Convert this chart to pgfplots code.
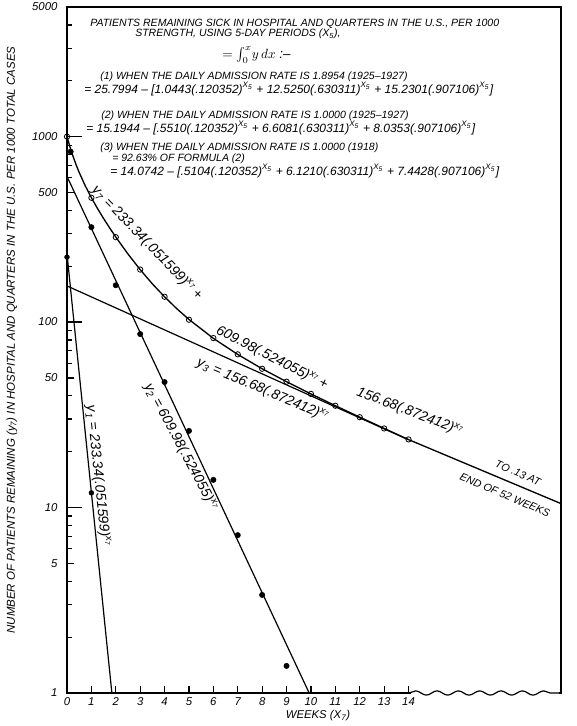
\documentclass[border=0pt]{standalone}
\usepackage{pgfplots}
\pgfplotsset{compat=1.18}
\usepackage{fontspec}
\setmainfont{Liberation Sans}
\usetikzlibrary{decorations.pathmorphing}
\newcommand\sx[1]{\textsuperscript{X\textsubscript{#1}}}
\newcommand\sw{\textsuperscript{x\textsubscript{7}}}
\newcommand\tf{\itshape\fontsize{7.9}{8.5}\selectfont}
\newcommand\ef{\itshape\fontsize{9}{10}\selectfont}
\newcommand\cf{\itshape\fontsize{10.5}{11}\selectfont}
\begin{document}
\begin{tikzpicture}
\begin{axis}[
  width=370.5pt, height=514.5pt, scale only axis,
  ymode=log, xmin=0, xmax=20.25, ymin=1, ymax=5000,
  axis line style={line width=1.1pt},
  tick align=inside, xtick pos=bottom, ytick pos=left,
  tick style={line width=0.9pt, black},
  xtick={0,...,14},
  xticklabels={0,1,2,3,4,5,6,7,8,9,10,11,12,13,14},
  xtick style={/pgfplots/major tick length=5pt},
  ytick={1,10,100,1000}, yticklabels={1,10,100,1000},
  major tick length=11pt, minor tick length=4pt,
  extra y ticks={5,50,500,5000}, extra y tick labels={5,50,500,5000},
  extra y tick style={major tick length=5pt},
  minor ytick={2,3,4,6,7,8,9,20,30,40,60,70,80,90,200,300,400,600,700,800,900,2000,3000,4000},
  yticklabel style={font=\itshape\fontsize{8.5}{9}\selectfont, inner sep=0pt, xshift=-7pt},
  xticklabel style={font=\itshape\fontsize{8.5}{9}\selectfont, inner sep=0pt, yshift=-3pt},
]
\addplot[line width=0.9pt] coordinates {(0,233.34) (1.8395,1)};
\addplot[line width=0.9pt] coordinates {(0,609.98) (9.927,1)};
\addplot[line width=0.9pt] coordinates {(0,156.68) (14,23.18)};
\addplot[line width=1pt] coordinates {
(0,1000) (0.125,877.7) (0.25,781.6) (0.375,704.4) (0.5,640.9) (0.75,542.4)
(1,468.4) (1.25,409.8) (1.5,361.8) (1.75,321.6) (2,287.4) (2.5,232.8)
(3,191.8) (3.5,160.7) (4,136.8) (4.5,118.1) (5,103.3) (6,81.7) (7,66.9)
(8,56.0) (9,47.7) (10,40.97) (11,35.41) (12,30.72) (13,26.71) (14,23.25)
(20.25,10.5)};
\addplot[only marks, mark=*, mark size=2pt] coordinates {
(0.15,830) (1,325) (2,158) (3,86.2) (4,47.5) (5,25.9) (6,14.1) (7,7.1) (8,3.38) (9,1.40)};
\addplot[only marks, mark=*, mark size=1.8pt] coordinates {(0,224) (1,12.0)};
\addplot[only marks, mark=o, mark size=2pt, line width=0.6pt, fill=white] coordinates {
(0,1000) (1,468) (2,287) (3,192) (4,137) (5,103) (6,82) (7,67) (8,56) (9,47.7)
(10,41) (11,35.4) (12,30.7) (13,26.7) (14,23.3)};
\coordinate (b14) at (axis cs:14.12,1);
\coordinate (b14s) at (axis cs:14.02,1);
\coordinate (bend) at (axis cs:20.25,1);
\coordinate (bendw) at (axis cs:20.15,1);
\end{axis}
\draw[white, line width=2.6pt] (b14) -- (bendw);
\draw[line width=0.9pt, decorate, decoration={snake, amplitude=1.6pt, segment length=16pt}] (b14s) -- (bend);
\begin{scope}[shift={([xshift=-50.25pt,yshift=519.75pt]current axis.south west)}, x=0.75pt, y=-0.75pt]
\node[anchor=west, inner sep=0pt] at (90,24) {\tf PATIENTS REMAINING SICK IN HOSPITAL AND QUARTERS IN THE U.S., PER 1000};
\node[anchor=west, inner sep=0pt] at (135,34) {\tf STRENGTH, USING 5-DAY PERIODS (X\textsubscript{5}),};
\node[anchor=west, inner sep=0pt] at (222,55) {\fontsize{10}{11}\selectfont $=\int_0^{x}\! y\,dx$ \itshape :--};
\node[anchor=west, inner sep=0pt] at (100,77) {\tf (1) WHEN THE DAILY ADMISSION RATE IS 1.8954 (1925--1927)};
\node[anchor=west, inner sep=0pt] at (84,89) {\ef = 25.7994 -- [1.0443(.120352)\sx{5} + 12.5250(.630311)\sx{5} + 15.2301(.907106)\sx{5}]};
\node[anchor=west, inner sep=0pt] at (101,116) {\tf (2) WHEN THE DAILY ADMISSION RATE IS 1.0000 (1925--1927)};
\node[anchor=west, inner sep=0pt] at (86,128) {\ef = 15.1944 -- [.5510(.120352)\sx{5} + 6.6081(.630311)\sx{5} + 8.0353(.907106)\sx{5}]};
\node[anchor=west, inner sep=0pt] at (100,148) {\tf (3) WHEN THE DAILY ADMISSION RATE IS 1.0000 (1918)};
\node[anchor=west, inner sep=0pt] at (112,159) {\tf = 92.63\% OF FORMULA (2)};
\node[anchor=west, inner sep=0pt] at (110,171) {\ef = 14.0742 -- [.5104(.120352)\sx{5} + 6.1210(.630311)\sx{5} + 7.4428(.907106)\sx{5}]};
% curve labels
\node[rotate=-46, inner sep=0pt] at (147,243) {\cf y\textsubscript{7} = 233.34(.051599)\sw\,+};
\node[rotate=-27, inner sep=0pt] at (272,358) {\cf 609.98(.524055)\sw\,+};
\node[rotate=-21, inner sep=0pt] at (410,412) {\cf 156.68(.872412)\sw};
\node[rotate=-23, inner sep=0pt] at (263,390) {\cf y\textsubscript{3} = 156.68(.872412)\sw};
\node[rotate=-62, inner sep=0pt] at (181,447) {\cf y\textsubscript{2} = 609.98(.524055)\sw};
\node[rotate=-84, inner sep=0pt] at (98,476) {\cf y\textsubscript{1} = 233.34(.051599)\sw};
\node[rotate=-24, inner sep=0pt] at (518,473) {\itshape\fontsize{8}{9}\selectfont TO .13 AT};
\node[rotate=-23, inner sep=0pt] at (505,495) {\itshape\fontsize{8}{9}\selectfont END OF 52 WEEKS};
% axis titles
\node[rotate=90, inner sep=0pt] at (12,340) {\itshape\fontsize{8.6}{9}\selectfont NUMBER OF PATIENTS REMAINING (y\textsubscript{7}) IN HOSPITAL AND QUARTERS IN THE U.S. PER 1000 TOTAL CASES};
\node[inner sep=0pt] at (318,716) {\itshape\fontsize{8.5}{9}\selectfont WEEKS (X\textsubscript{7})};
\pgfresetboundingbox
\path[use as bounding box] (0,0) rectangle (576,726);
\end{scope}
\end{tikzpicture}
\end{document}
